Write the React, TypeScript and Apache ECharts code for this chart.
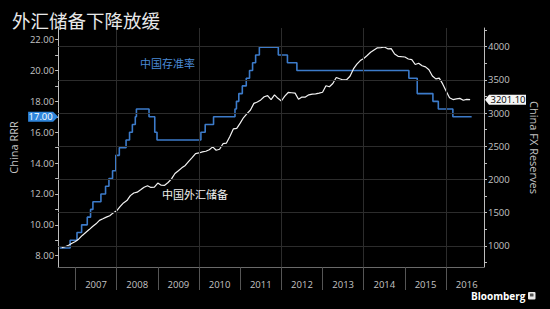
import React, { useEffect, useRef } from "react";
import * as echarts from "echarts";

// ---- data ----
const rrrDates = [
  "2006-08-15", "2006-11-15", "2007-01-15", "2007-02-25", "2007-04-16", "2007-05-15",
  "2007-06-05", "2007-08-15", "2007-09-25", "2007-10-25", "2007-11-26", "2007-12-25",
  "2008-01-25", "2008-03-25", "2008-04-25", "2008-05-20", "2008-06-15", "2008-06-25",
  "2008-10-15", "2008-12-05", "2008-12-25", "2010-01-18", "2010-02-25", "2010-05-10",
  "2010-11-16", "2010-11-29", "2010-12-20", "2011-01-20", "2011-02-24", "2011-03-25",
  "2011-04-21", "2011-05-18", "2011-06-20", "2011-12-05", "2012-02-24", "2012-05-18",
  "2015-02-05", "2015-04-20", "2015-09-06", "2015-10-24", "2016-03-01", "2016-08-15",
];
const rrrValues = [
  8.5, 9.0, 9.5, 10.0, 10.5, 11.0,
  11.5, 12.0, 12.5, 13.0, 13.5, 14.5,
  15.0, 15.5, 16.0, 16.5, 17.0, 17.5,
  17.0, 16.0, 15.5, 16.0, 16.5, 17.0,
  17.5, 18.0, 18.5, 19.0, 19.5, 20.0,
  20.5, 21.0, 21.5, 21.0, 20.5, 20.0,
  19.5, 18.5, 18.0, 17.5, 17.0, 17.0,
];

const fxStart = "2006-08"; // first month of monthly FX reserve values (USD bn)
const fxValues = [
  972, 988, 1010, 1040, 1066,
  1105, 1158, 1202, 1246, 1292, 1333, 1385, 1409, 1434, 1455, 1497, 1528,
  1590, 1647, 1682, 1757, 1797, 1809, 1845, 1884, 1906, 1880, 1885, 1946,
  1913, 1912, 1954, 2009, 2090, 2132, 2175, 2211, 2273, 2328, 2389, 2399,
  2415, 2425, 2447, 2491, 2440, 2454, 2538, 2548, 2648, 2760, 2768, 2847,
  2932, 2991, 3045, 3145, 3166, 3197, 3245, 3262, 3202, 3274, 3221, 3181,
  3254, 3309, 3305, 3299, 3206, 3240, 3240, 3273, 3285, 3287, 3298, 3312,
  3410, 3395, 3443, 3535, 3515, 3497, 3500, 3553, 3663, 3736, 3789, 3821,
  3866, 3914, 3948, 3981, 3984, 3993, 3966, 3969, 3888, 3853, 3847, 3843,
  3813, 3802, 3730, 3748, 3711, 3694, 3651, 3557, 3514, 3525, 3438, 3330,
  3231, 3202, 3213, 3220, 3192, 3205, 3201.1,
];

const yearTicks = [2007, 2008, 2009, 2010, 2011, 2012, 2013, 2014, 2015, 2016];
const gridYears = [2008, 2010, 2012, 2014, 2016];
const leftLabels = [8, 10, 12, 14, 16, 18, 20, 22];
const leftTicks = [8, 9, 10, 11, 12, 13, 14, 15, 16, 17, 18, 19, 20, 21, 22];
const rightLabels = [1000, 1500, 2000, 2500, 3000, 3500, 4000];
const rightTicks = [750, 1000, 1250, 1500, 1750, 2000, 2250, 2500, 2750, 3000, 3250, 3500, 3750, 4000, 4250];

const titleText = "外汇储备下降放缓";
const rrrName = "中国存准率";
const fxName = "中国外汇储备";
const rrrBadge = 17.0;
const fxBadge = 3201.1;

// ---- helpers ----
function toYear(s: string): number {
  const [y, m, d] = s.split("-").map(Number);
  const a = Date.UTC(y, 0, 1);
  const b = Date.UTC(y + 1, 0, 1);
  return y + (Date.UTC(y, m - 1, d) - a) / (b - a);
}
function fxPoints(): [number, number][] {
  const [sy, sm] = fxStart.split("-").map(Number);
  return fxValues.map((v, i) => {
    const t = sy * 12 + (sm - 1) + i;
    const y = Math.floor(t / 12);
    const m = (t % 12) + 1;
    return [y + m / 12, v];
  });
}

const FONT = "'Open Sans', 'Noto Sans', sans-serif";
const CJK = "'Noto Sans CJK SC', sans-serif";
const LABEL = "#c4c4c4";

export default function App() {
  const ref = useRef<HTMLDivElement>(null);
  useEffect(() => {
    if (!ref.current) return;
    const chart = echarts.init(ref.current, null, { renderer: "svg" });
    const rrrData = rrrDates.map((d, i) => [toYear(d), rrrValues[i]]);
    const fxData = fxPoints();
    chart.setOption({
      animation: false,
      backgroundColor: "#000",
      title: {
        text: titleText,
        left: 7,
        top: 6,
        textStyle: { color: "#e8e8e8", fontSize: 18.5, fontWeight: "normal", fontFamily: CJK },
      },
      grid: { left: 52, right: 66, top: 28, bottom: 42, containLabel: false },
      xAxis: {
        type: "value",
        min: 2006.58,
        max: 2016.92,
        axisLine: { show: true, lineStyle: { color: "#6a6a6a", width: 1 } },
        axisTick: { show: true, customValues: yearTicks, length: 23, lineStyle: { color: "#555" } },
        axisLabel: {
          customValues: yearTicks.map((y) => y + 0.5),
          formatter: (v: number) => String(Math.floor(v)),
          color: LABEL,
          fontSize: 9.5,
          fontFamily: FONT,
          margin: 12,
        },
        splitLine: { show: false },
      },
      yAxis: [
        {
          type: "value",
          position: "left",
          min: 7.27,
          max: 22.75,
          name: "China RRR",
          nameLocation: "middle",
          nameRotate: 90,
          nameGap: 33,
          nameTextStyle: { color: LABEL, fontSize: 11, fontFamily: FONT },
          axisLine: { show: true, lineStyle: { color: "#bdbdbd", width: 1 } },
          axisTick: { show: true, customValues: leftTicks, length: 3, lineStyle: { color: "#bdbdbd" } },
          axisLabel: {
            customValues: leftLabels,
            formatter: (v: number) => v.toFixed(2),
            color: LABEL,
            fontSize: 9.5,
            fontFamily: FONT,
            margin: 4,
          },
          splitLine: { show: false },
        },
        {
          type: "value",
          position: "right",
          min: 683,
          max: 4279,
          name: "China FX Reserves",
          nameLocation: "middle",
          nameRotate: -90,
          nameGap: 45,
          nameTextStyle: { color: LABEL, fontSize: 11, fontFamily: FONT },
          axisLine: { show: true, lineStyle: { color: "#bdbdbd", width: 1 } },
          axisTick: { show: true, customValues: rightTicks, length: 3, lineStyle: { color: "#bdbdbd" } },
          axisLabel: {
            customValues: rightLabels,
            formatter: (v: number) => String(v),
            color: LABEL,
            fontSize: 9.5,
            fontFamily: FONT,
            margin: 4,
          },
          splitLine: { show: false },
        },
      ],
      series: [
        {
          name: "grid",
          type: "line",
          yAxisIndex: 1,
          data: [],
          z: 1,
          silent: true,
          markLine: {
            silent: true,
            symbol: ["none", "none"],
            label: { show: false },
            emphasis: { disabled: true },
            lineStyle: { color: "#2c2c2c", type: "solid", width: 1 },
            data: [
              ...rightLabels.map((v) => ({ yAxis: v })),
              ...gridYears.map((y) => ({ xAxis: y })),
            ],
          },
        },
        {
          name: rrrName,
          type: "line",
          yAxisIndex: 0,
          step: "end",
          data: rrrData,
          showSymbol: false,
          z: 2,
          lineStyle: { color: "#3c7bca", width: 1.6 },
        },
        {
          name: fxName,
          type: "line",
          yAxisIndex: 1,
          data: fxData,
          showSymbol: false,
          z: 3,
          lineStyle: { color: "#f2f2f2", width: 1.2 },
        },
      ],
    });

    const yL = chart.convertToPixel({ yAxisIndex: 0 }, rrrBadge) as number;
    const yR = chart.convertToPixel({ yAxisIndex: 1 }, fxBadge) as number;
    const axL = chart.convertToPixel({ xAxisIndex: 0 }, 2006.58) as number;
    const axR = chart.convertToPixel({ xAxisIndex: 0 }, 2016.92) as number;

    chart.setOption({
      graphic: [
        {
          type: "polygon",
          shape: {
            points: [
              [axL - 30, yL - 5],
              [axL - 5, yL - 5],
              [axL, yL],
              [axL - 5, yL + 5],
              [axL - 30, yL + 5],
            ],
          },
          style: { fill: "#2f86dc" },
          z: 10,
        },
        {
          type: "text",
          x: axL - 17.5,
          y: yL,
          style: {
            text: rrrBadge.toFixed(2),
            fill: "#fff",
            fontSize: 9.5,
            fontFamily: FONT,
            align: "center",
            verticalAlign: "middle",
          },
          z: 11,
        },
        {
          type: "polygon",
          shape: {
            points: [
              [axR + 1, yR],
              [axR + 5, yR - 5],
              [axR + 42, yR - 5],
              [axR + 42, yR + 5],
              [axR + 5, yR + 5],
            ],
          },
          style: { fill: "#f4f4f4" },
          z: 10,
        },
        {
          type: "text",
          x: axR + 24,
          y: yR,
          style: {
            text: fxBadge.toFixed(2),
            fill: "#000",
            fontSize: 9.5,
            fontFamily: FONT,
            align: "center",
            verticalAlign: "middle",
          },
          z: 11,
        },
        {
          type: "text",
          x: 140,
          y: 63,
          style: { text: rrrName, fill: "#4a8ad6", fontSize: 11, fontFamily: CJK, verticalAlign: "middle" },
          z: 10,
        },
        {
          type: "text",
          x: 162,
          y: 194,
          style: { text: fxName, fill: "#f0f0f0", fontSize: 11, fontFamily: CJK, verticalAlign: "middle" },
          z: 10,
        },
        {
          type: "text",
          x: 471,
          y: 296,
          style: {
            text: "Bloomberg",
            fill: "#fff",
            fontSize: 10,
            fontWeight: "bold",
            fontFamily: FONT,
            verticalAlign: "middle",
          },
          z: 10,
        },
        {
          type: "rect",
          shape: { x: 528, y: 292, width: 7.5, height: 7.5, r: 1 },
          style: { fill: "#e8e8e8" },
          z: 10,
        },
        {
          type: "rect",
          shape: { x: 530, y: 293.5, width: 3.5, height: 3, r: 0.5 },
          style: { fill: "#555" },
          z: 11,
        },
      ],
    });

    return () => chart.dispose();
  }, []);
  return (
    <div
      ref={ref}
      style={{ position: "fixed", left: 0, top: 0, width: 550, height: 309, background: "#000" }}
    />
  );
}
